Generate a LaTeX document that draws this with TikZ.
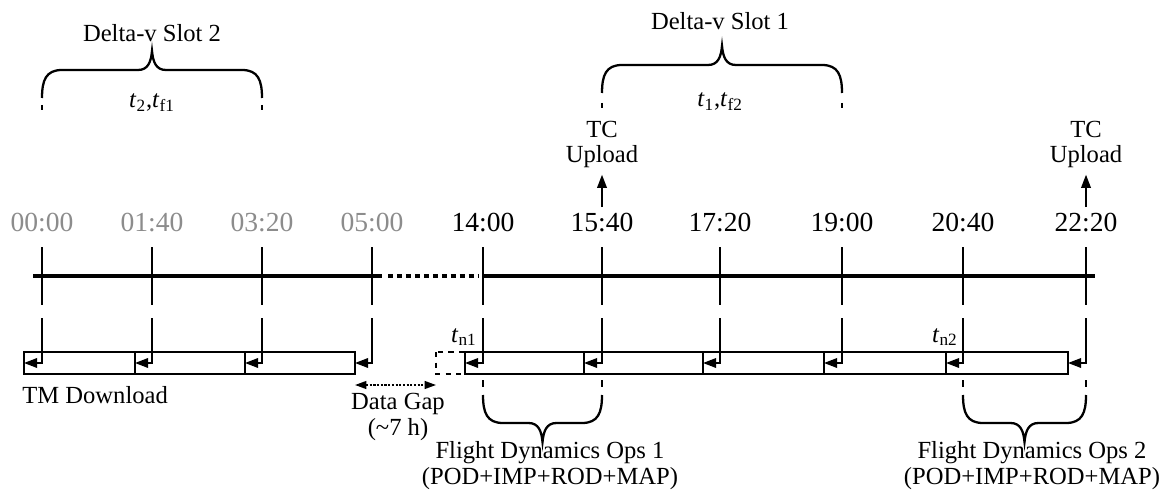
\documentclass[tikz,border=0pt]{standalone}
\usepackage{fontspec}
\setmainfont{Liberation Serif}
\usetikzlibrary{arrows.meta}

\colorlet{pastgrey}{black!45}
\newcommand{\tsub}[1]{\textit{t}\textsubscript{#1}}
% curly brace: left x, right x, end y, +1 tip up / -1 tip down
\newcommand{\slotbrace}[4]{%
  \draw[brc] (#1,#3) .. controls (#1,{#3-18*(#4)}) and ({#1+4},{#3-28*(#4)}) .. ({#1+20},{#3-28*(#4)})
    -- ({(#1+#2)/2-14},{#3-28*(#4)})
    .. controls ({(#1+#2)/2-4},{#3-28*(#4)}) and ({(#1+#2)/2-1},{#3-36*(#4)}) .. ({(#1+#2)/2},{#3-47*(#4)})
    .. controls ({(#1+#2)/2+1},{#3-36*(#4)}) and ({(#1+#2)/2+4},{#3-28*(#4)}) .. ({(#1+#2)/2+14},{#3-28*(#4)})
    -- ({#2-20},{#3-28*(#4)})
    .. controls ({#2-4},{#3-28*(#4)}) and (#2,{#3-18*(#4)}) .. (#2,#3);}

\tikzset{
  lbl/.style={font=\fontsize{14}{14.6}\selectfont, align=center, inner sep=0pt},
  timelbl/.style={font=\fontsize{15.7}{17}\selectfont, inner sep=0pt, anchor=base},
  timeline/.style={line width=2.3pt},
  tickline/.style={line width=0.9pt},
  dlbox/.style={line width=0.8pt},
  brc/.style={line width=1.3pt},
  pointer/.style={-{Triangle[length=7.5pt,width=5.5pt]}},
}

\begin{document}
\begin{tikzpicture}[x=0.02cm,y=-0.02cm]
\useasboundingbox (0,0) rectangle (1162,493);

% time axis, broken between 05:00 and 14:00
\draw[timeline] (33,276) -- (382,276);
\draw[timeline,dash pattern=on 2.8pt off 2.3pt] (388,276) -- (478,276);
\draw[timeline] (483,276) -- (1095,276);

% hour labels
\foreach \x/\hh/\col [count=\i from 0] in {42/00:00/pastgrey,152/01:40/pastgrey,262/03:20/pastgrey,372/05:00/pastgrey,
    483/14:00/black,602/15:40/black,720/17:20/black,842/19:00/black,963/20:40/black,1086/22:20/black}
  \node[timelbl,text=\col] (h\i) at (\x,232) {\hh};

% download slots
\draw[dlbox,dashed] (436,352) rectangle (465,374);
\foreach \a/\b in {24/135,135/245,245/355,465/584,584/703,703/824,824/946,946/1068}
  \draw[dlbox] (\a,352) rectangle (\b,374);

% ticks and their pointers to the slot edges
\foreach \x/\e in {42/24,152/135,262/245,372/355,483/465,602/584,720/703,842/824,963/946,1086/1068}{
  \draw[tickline] (\x,247) -- (\x,305);
  \draw[tickline,pointer] (\x,318) -- (\x,363) -- (\e,363);
}

% short marks at the brace ends
\foreach \x in {42,262} \draw[tickline] (\x,105) -- (\x,110);
\foreach \x in {602,842} \draw[tickline] (\x,103) -- (\x,108);
\foreach \x in {483,602,963,1086} \draw[tickline] (\x,380) -- (\x,387);

% braces
\slotbrace{42}{262}{98}{1}
\slotbrace{602}{842}{93}{1}
\slotbrace{483}{602}{395}{-1}
\slotbrace{963}{1086}{395}{-1}

\node[lbl,anchor=base] (slot2) at (152,42) {Delta-v Slot 2};
\node[lbl,anchor=base] (slot2t) at (152,108) {\tsub{2},\tsub{f1}};
\node[lbl,anchor=base] (slot1) at (720,30) {Delta-v Slot 1};
\node[lbl,anchor=base] (slot1t) at (720,107) {\tsub{1},\tsub{f2}};

% telecommand uploads (base is the last line)
\node[lbl,anchor=base] (up1) at (602,163) {TC\\Upload};
\node[lbl,anchor=base] (up2) at (1086,163) {TC\\Upload};
\draw[tickline,pointer,shorten <=3.5pt,shorten >=3.5pt] (h5.north) -- (up1.south);
\draw[tickline,pointer,shorten <=3.5pt,shorten >=3.5pt] (h9.north) -- (up2.south);

% lower labels
\node[lbl,anchor=base west] (tm) at (22,403) {TM Download};
\node[lbl,anchor=base east] (tn1) at (477,342) {\tsub{n1}};
\node[lbl,anchor=base east] (tn2) at (958,342) {\tsub{n2}};
\coordinate (gapL) at (355,385);
\coordinate (gapR) at (436,385);
\draw[tickline,dash pattern=on 1.2pt off 0.9pt,{Triangle[length=6.5pt,width=4.5pt]}-{Triangle[length=6.5pt,width=4.5pt]}] (gapL) -- (gapR);
\node[lbl,anchor=base] (gap) at (398,435) {Data Gap\\(\textasciitilde 7 h)};
\node[lbl,anchor=base] (fd1) at (550,484) {Flight Dynamics Ops 1\\(POD+IMP+ROD+MAP)};
\node[lbl,anchor=base] (fd2) at (1032,484) {Flight Dynamics Ops 2\\(POD+IMP+ROD+MAP)};
\end{tikzpicture}
\end{document}
